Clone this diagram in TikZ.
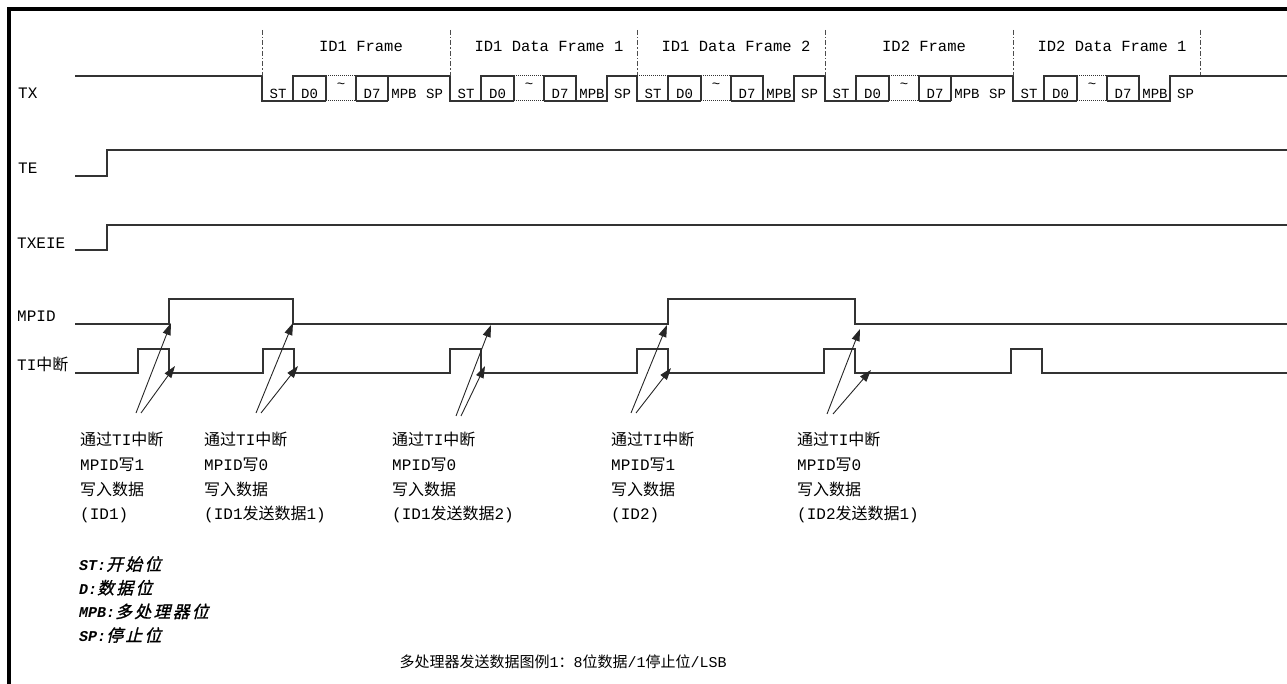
\documentclass[tikz,border=0pt]{standalone}
\usepackage{fontspec}
\setmainfont{Liberation Mono}
\newfontfamily\cjk{Noto Sans CJK SC}
\newfontfamily\cjkkey{Noto Sans CJK SC}[Scale=1.12, FakeSlant=0.25, FakeBold=1.2, LetterSpace=14]
\usepackage{tikz}
\usetikzlibrary{arrows.meta}

\begin{document}
\begin{tikzpicture}[
    x=1pt, y=-1pt,
    wave/.style={draw=black!80, line width=1.2pt},
    dots/.style={draw=black!80, line width=1pt, densely dotted},
    sep/.style={draw=black!70, line width=1pt, dash pattern=on 5pt off 2pt on 1.5pt off 2pt},
    sig/.style={anchor=west, inner sep=0pt, font=\fontsize{16}{16}\selectfont},
    bit/.style={inner sep=0pt, font=\fontsize{14}{14}\selectfont},
    ttl/.style={inner sep=0pt, font=\fontsize{15.5}{15.5}\selectfont},
    note/.style={anchor=north west, inner sep=0pt, align=left, font=\fontsize{16}{24.7}\selectfont},
    key/.style={anchor=north west, inner sep=0pt, align=left, font=\fontsize{15}{23.7}\selectfont\bfseries\itshape},
    captext/.style={inner sep=0pt, font=\fontsize{15}{15}\selectfont},
    arr/.style={-{Triangle[length=12pt,width=8pt]}, line width=0.9pt, black!85},
  ]
  \useasboundingbox (0,0) rectangle (1287,684);
  \draw[line width=3.2pt] (9,684) -- (9,9) -- (1287,9);

  % signal names
  \node[sig] (tx) at (18,93) {TX};
  \node[sig] (te) at (18,168) {TE};
  \node[sig] (txeie) at (17,243) {TXEIE};
  \node[sig] (mpid) at (17,316) {MPID};
  \node[sig] (ti) at (17,364) {TI{\cjk 中断}};

  % TX line with the five frames
  \draw[wave] (75,76) -- (262,76);
  \foreach \x/\mp/\t in {262/1/ID1 Frame, 450/0/ID1 Data Frame 1, 637/0/ID1 Data Frame 2,
                          825/1/ID2 Frame, 1013/0/ID2 Data Frame 1} {
    \draw[sep] (\x,30) -- (\x,76);
    \node[ttl] (ttl\x) at (\x+99,46) {\t};
    \draw[wave] (\x,76) -- (\x,101) -- (\x+64,101);
    \draw[dots] (\x+64,101) -- (\x+94,101) (\x+64,76) -- (\x+94,76);
    \draw[wave] (\x+31,101) |- (\x+64,76) -- (\x+64,101);
    \draw[wave] (\x+94,101) |- (\x+126,76) -- (\x+126,101);
    \ifnum\mp=1
      \draw[wave] (\x+94,101) -- (\x+126,101) (\x+126,76) -- (\x+188,76);
    \else
      \draw[wave] (\x+94,101) -- (\x+157,101) -- (\x+157,76) -- (\x+188,76);
    \fi
    \node[bit] (st\x) at (\x+16,94) {ST};
    \node[bit] (dz\x) at (\x+47.5,94) {D0};
    \node[bit] (tl\x) at (\x+79,86) {\textasciitilde};
    \node[bit] (ds\x) at (\x+110,94) {D7};
    \node[bit] (mpb\x) at (\x+142,94) {MPB};
    \node[bit] (sp\x) at (\x+172.5,94) {SP};
  }
  \draw[sep] (1200,30) -- (1200,76);
  \draw[dots] (637,76) -- (668,76);
  \draw[wave] (1200,76) -- (1287,76);

  % TE, TXEIE, MPID, TI
  \draw[wave] (75,176) -| (107,150) -- (1287,150);
  \draw[wave] (75,250) -| (107,225) -- (1287,225);
  \draw[wave] (75,324) -| (169,299) -| (293,324) -| (668,299) -| (855,324) -- (1287,324);
  \draw[wave] (75,373) -| (138,349) -| (169,373) -| (263,349) -| (294,373)
    -| (450,349) -| (481,373) -| (637,349) -| (668,373) -| (824,349) -| (855,373)
    -| (1011,349) -| (1042,373) -- (1287,373);

  % arrow ends
  \coordinate (ta1) at (136,413); \coordinate (tb1) at (141,413);
  \coordinate (ta2) at (256,413); \coordinate (tb2) at (261,413);
  \coordinate (ta3) at (456,416); \coordinate (tb3) at (461,416);
  \coordinate (ta4) at (631,413); \coordinate (tb4) at (636,413);
  \coordinate (ta5) at (827,414); \coordinate (tb5) at (833,414);
  \coordinate (hm1) at (171,323); \coordinate (hi1) at (175,366);
  \coordinate (hm2) at (293,323); \coordinate (hi2) at (298,366);
  \coordinate (hm3) at (491,325); \coordinate (hi3) at (485,366);
  \coordinate (hm4) at (667,325); \coordinate (hi4) at (671,368);
  \coordinate (hm5) at (860,329); \coordinate (hi5) at (871,370);

  \draw[arr] (ta1) -- (hm1);
  \draw[arr] (tb1) -- (hi1);
  \draw[arr] (ta2) -- (hm2);
  \draw[arr] (tb2) -- (hi2);
  \draw[arr] (ta3) -- (hm3);
  \draw[arr] (tb3) -- (hi3);
  \draw[arr] (ta4) -- (hm4);
  \draw[arr] (tb4) -- (hi4);
  \draw[arr] (ta5) -- (hm5);
  \draw[arr] (tb5) -- (hi5);

  % notes under the arrows
  \node[note] (n1) at (80,432) {{\cjk 通过}TI{\cjk 中断}\\MPID{\cjk 写}1\\{\cjk 写入数据}\\(ID1)};
  \node[note] (n2) at (204,432) {{\cjk 通过}TI{\cjk 中断}\\MPID{\cjk 写}0\\{\cjk 写入数据}\\(ID1{\cjk 发送数据}1)};
  \node[note] (n3) at (392,432) {{\cjk 通过}TI{\cjk 中断}\\MPID{\cjk 写}0\\{\cjk 写入数据}\\(ID1{\cjk 发送数据}2)};
  \node[note] (n4) at (611,432) {{\cjk 通过}TI{\cjk 中断}\\MPID{\cjk 写}1\\{\cjk 写入数据}\\(ID2)};
  \node[note] (n5) at (797,432) {{\cjk 通过}TI{\cjk 中断}\\MPID{\cjk 写}0\\{\cjk 写入数据}\\(ID2{\cjk 发送数据}1)};

  % legend and caption
  \node[key] (legend) at (79,556) {ST:{\normalfont\cjkkey 开始位}\\D:{\normalfont\cjkkey 数据位}\\MPB:{\normalfont\cjkkey 多处理器位}\\SP:{\normalfont\cjkkey 停止位}};
  \node[captext] (caption) at (563,662) {{\cjk 多处理器发送数据图例}1{\cjk ：}8{\cjk 位数据}/1{\cjk 停止位}/LSB};
\end{tikzpicture}
\end{document}
